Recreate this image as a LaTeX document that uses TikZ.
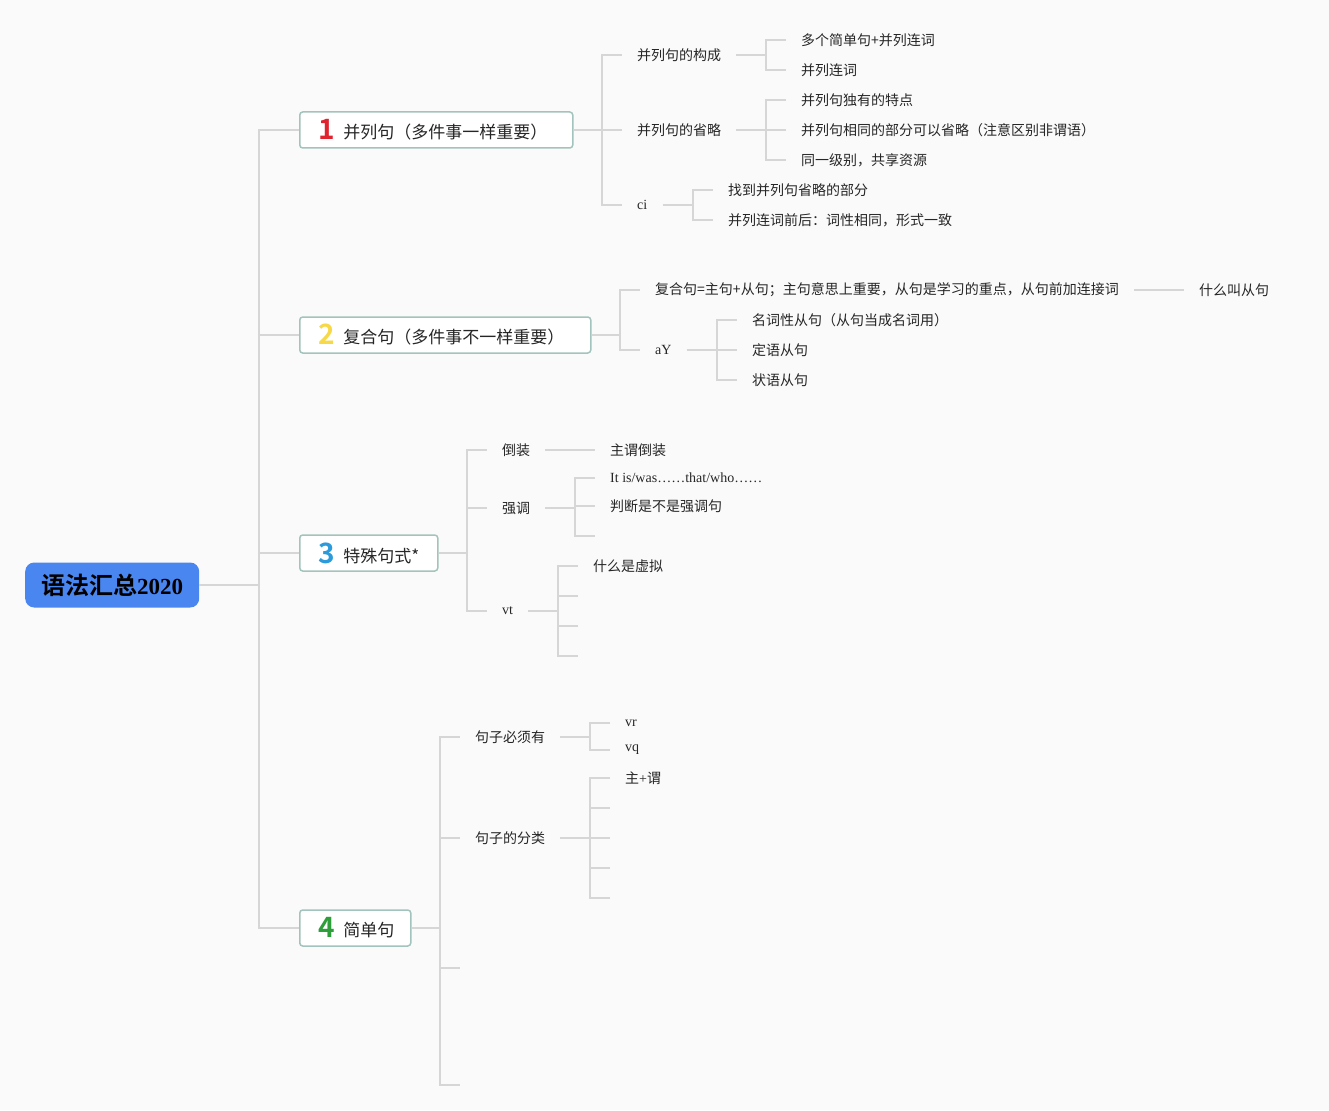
\documentclass[tikz,border=0pt]{standalone}
\usepackage{fontspec}
\setmainfont{Liberation Serif}
\newfontfamily\cjk{Noto Sans CJK SC}
\newfontfamily\cjkbold{Noto Sans CJK SC Bold}
\definecolor{bgc}{HTML}{FAFAFA}
\definecolor{linec}{HTML}{D6D6D6}
\definecolor{boxc}{HTML}{A3C4BC}
\definecolor{txt}{HTML}{262626}
\definecolor{rootc}{HTML}{4A86EF}
\definecolor{bred}{HTML}{E0242F}
\definecolor{byel}{HTML}{F7D948}
\definecolor{bblue}{HTML}{2B9BDB}
\definecolor{bgreen}{HTML}{2E9E3A}
\newcommand\badgenum[2]{{\color{#1}\cjkbold\fontsize{28}{28}\selectfont\raisebox{-1pt}{#2}}\hspace{8pt}}
\newcommand\mainlabel[2]{\makebox[#1][l]{#2}}
\begin{document}
\begin{tikzpicture}[x=1pt,y=-1pt,
  conn/.style={draw=linec, line width=2pt},
  leaf/.style={anchor=west, inner xsep=15pt, inner ysep=2pt, text=txt, font=\cjk\fontsize{14}{16}\selectfont},
  leafl/.style={leaf, font=\rmfamily\fontsize{14}{16}\selectfont},
  mainbox/.style={draw=boxc, line width=1.5pt, fill=white, rounded corners=3pt, anchor=west,
    minimum height=36pt, inner xsep=19pt, inner ysep=0pt, text=txt,
    font=\cjk\fontsize{17}{20}\selectfont},
  rootbox/.style={fill=rootc, rounded corners=9pt, anchor=west, minimum width=174pt,
    minimum height=45pt, inner sep=0pt, text=black}
]
\fill[bgc] (0,0) rectangle (1329,1110);
\useasboundingbox (0,0) rectangle (1329,1110);

% root
\node[rootbox] (root) at (25,585) {{\cjkbold\fontsize{24}{26}\selectfont 语法汇总}{\bfseries\fontsize{23}{26}\selectfont 2020}};

% main nodes
\node[mainbox] (m1) at (299,130) {\mainlabel{235pt}{\badgenum{bred}{1}并列句（多件事一样重要）}};
\node[mainbox] (m2) at (299,335) {\mainlabel{253pt}{\badgenum{byel}{2}复合句（多件事不一样重要）}};
\node[mainbox] (m3) at (299,553) {\mainlabel{100pt}{\badgenum{bblue}{3}特殊句式*}};
\node[mainbox] (m4) at (299,928) {\mainlabel{73pt}{\badgenum{bgreen}{4}简单句}};

\coordinate (j0) at (259,585);
\draw[conn] (root.east) -- (j0);
\foreach \m in {m1,m2,m3,m4} \draw[conn] (j0) |- (\m.west);

% ---------- branch 1
\coordinate (j1) at (602,130);
\node[leaf] (a1) at (622,55) {并列句的构成};
\node[leaf] (a2) at (622,130) {并列句的省略};
\node[leafl] (a3) at (622,205) {ci};
\draw[conn] (m1.east) -- (j1);
\foreach \c in {a1,a2,a3} \draw[conn] (j1) |- (\c.west);

\coordinate (j11) at (766,55);
\node[leaf] (a11) at (786,40) {多个简单句+并列连词};
\node[leaf] (a12) at (786,70) {并列连词};
\draw[conn] (a1.east) -- (j11);
\foreach \c in {a11,a12} \draw[conn] (j11) |- (\c.west);

\coordinate (j12) at (766,130);
\node[leaf] (a21) at (786,100) {并列句独有的特点};
\node[leaf] (a22) at (786,130) {并列句相同的部分可以省略（注意区别非谓语）};
\node[leaf] (a23) at (786,160) {同一级别，共享资源};
\draw[conn] (a2.east) -- (j12);
\foreach \c in {a21,a22,a23} \draw[conn] (j12) |- (\c.west);

\coordinate (j13) at (693,205);
\node[leaf] (a31) at (713,190) {找到并列句省略的部分};
\node[leaf] (a32) at (713,220) {并列连词前后：词性相同，形式一致};
\draw[conn] (a3.east) -- (j13);
\foreach \c in {a31,a32} \draw[conn] (j13) |- (\c.west);

% ---------- branch 2
\coordinate (j2) at (620,335);
\node[leaf] (b1) at (640,290) {复合句=主句+从句；主句意思上重要，从句是学习的重点，从句前加连接词};
\node[leafl] (b2) at (640,350) {aY};
\draw[conn] (m2.east) -- (j2);
\foreach \c in {b1,b2} \draw[conn] (j2) |- (\c.west);

\node[leaf] (b11) at (1184,290) {什么叫从句};
\draw[conn] (b1.east) -- (b11.west);

\coordinate (j22) at (717,350);
\node[leaf] (b21) at (737,320) {名词性从句（从句当成名词用）};
\node[leaf] (b22) at (737,350) {定语从句};
\node[leaf] (b23) at (737,380) {状语从句};
\draw[conn] (b2.east) -- (j22);
\foreach \c in {b21,b22,b23} \draw[conn] (j22) |- (\c.west);

% ---------- branch 3
\coordinate (j3) at (467,553);
\node[leaf] (c1) at (487,450) {倒装};
\node[leaf] (c2) at (487,508) {强调};
\node[leafl] (c3) at (487,611) {vt};
\draw[conn] (m3.east) -- (j3);
\foreach \c in {c1,c2,c3} \draw[conn] (j3) |- (\c.west);

\node[leaf] (c11) at (595,450) {主谓倒装};
\draw[conn] (c1.east) -- (c11.west);

\coordinate (j32) at (575,508);
\node[leafl] (c21) at (595,478) {It is/was……that/who……};
\node[leaf] (c22) at (595,506) {判断是不是强调句};
\coordinate (c23) at (595,536);
\draw[conn] (c2.east) -- (j32);
\foreach \c in {c21.west,c22.west,c23} \draw[conn] (j32) |- (\c);

\coordinate (j33) at (558,611);
\node[leaf] (c31) at (578,566) {什么是虚拟};
\coordinate (c32) at (578,596);
\coordinate (c33) at (578,626);
\coordinate (c34) at (578,656);
\draw[conn] (c3.east) -- (j33);
\foreach \c in {c31.west,c32,c33,c34} \draw[conn] (j33) |- (\c);

% ---------- branch 4
\coordinate (j4) at (440,928);
\node[leaf] (d1) at (460,737) {句子必须有};
\node[leaf] (d2) at (460,838) {句子的分类};
\coordinate (d3) at (460,968);
\coordinate (d4) at (460,1085);
\draw[conn] (m4.east) -- (j4);
\foreach \c in {d1.west,d2.west,d3,d4} \draw[conn] (j4) |- (\c);

\coordinate (j41) at (590,737);
\node[leafl] (d11) at (610,723) {vr};
\node[leafl] (d12) at (610,750) {vq};
\draw[conn] (d1.east) -- (j41);
\foreach \c in {d11,d12} \draw[conn] (j41) |- (\c.west);

\coordinate (j42) at (590,838);
\node[leaf] (d21) at (610,778) {主{\rmfamily +}谓};
\coordinate (d22) at (610,808);
\coordinate (d23) at (610,838);
\coordinate (d24) at (610,868);
\coordinate (d25) at (610,898);
\draw[conn] (d2.east) -- (j42);
\foreach \c in {d21.west,d22,d23,d24,d25} \draw[conn] (j42) |- (\c);
\end{tikzpicture}
\end{document}
